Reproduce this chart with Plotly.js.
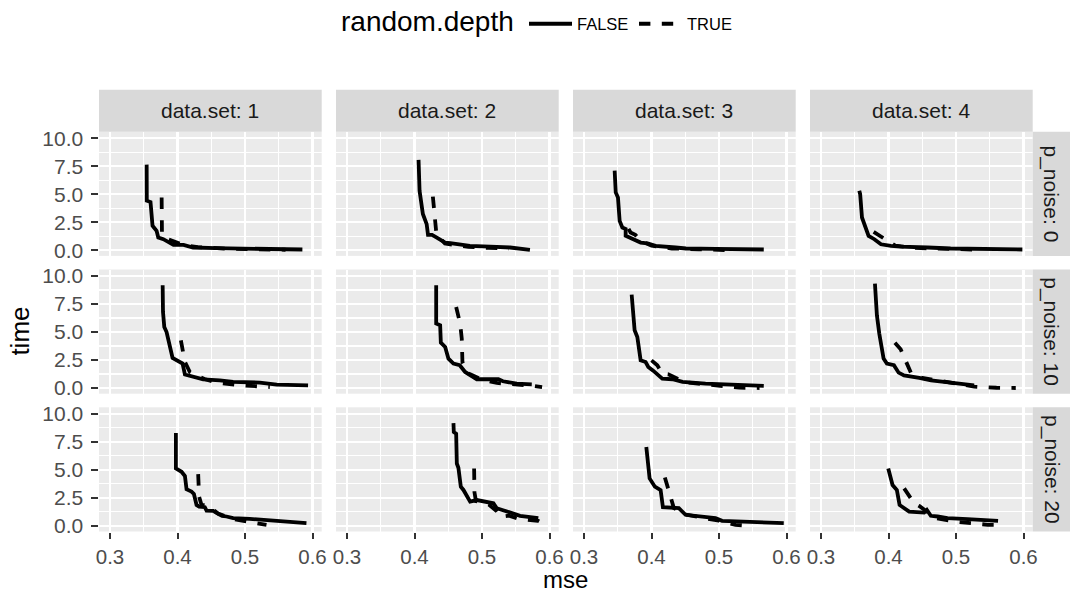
<!DOCTYPE html>
<html><head><meta charset="utf-8">
<script src="https://cdn.plot.ly/plotly-3.0.1.min.js"></script>
<style>html,body{margin:0;padding:0;background:#fff}#chart{width:1070px;height:594px}</style>
</head><body><div id="chart"></div>
<script>
// ---- facets / ticks ----
const dataSets = ['1', '2', '3', '4'];
const noiseLevels = ['0', '10', '20'];
const xTickVals = [0.3, 0.4, 0.5, 0.6];
const yTickVals = [0, 2.5, 5, 7.5, 10];
const legendTitle = 'random.depth';
const depthLevels = ['FALSE', 'TRUE'];

// ---- p_noise: 0 ----
const n0d1_false_mse = [0.3543,0.3545,0.360,0.363,0.369,0.3715,0.379,0.389,0.394,0.409,0.423,0.457,0.506,0.585];
const n0d1_false_time = [7.64,4.42,4.3,2.18,1.73,1.13,0.98,0.68,0.47,0.47,0.24,0.18,0.12,0.06];
const n0d1_true_mse = [0.3765,0.377,0.385,0.395,0.41,0.43,0.47,0.52,0.56];
const n0d1_true_time = [4.7,1.4,1.0,0.75,0.45,0.28,0.14,0.08,0.04];

const n0d2_false_mse = [0.406,0.4075,0.4124,0.418,0.420,0.426,0.433,0.4454,0.453,0.4676,0.482,0.512,0.5416,0.571];
const n0d2_false_time = [8.06,5.3,3.23,2.33,1.37,1.37,1.13,0.68,0.62,0.53,0.38,0.32,0.24,0.03];
const n0d2_true_mse = [0.4272,0.432,0.436,0.445,0.46,0.48,0.51,0.54];
const n0d2_true_time = [4.78,1.73,1.2,0.6,0.45,0.3,0.2,0.15];

const n0d3_false_mse = [0.3454,0.347,0.3503,0.3528,0.3568,0.3617,0.3617,0.374,0.384,0.394,0.406,0.4357,0.451,0.495,0.5663];
const n0d3_false_time = [7.1,5.16,4.7,2.62,2.03,1.9,1.28,0.9,0.68,0.6,0.38,0.24,0.15,0.12,0.06];
const n0d3_true_mse = [0.366,0.369,0.376,0.385,0.40,0.43,0.47,0.52];
const n0d3_true_time = [1.9,1.58,1.37,0.8,0.4,0.15,0.08,0.0];

const n0d4_false_mse = [0.3567,0.358,0.3607,0.3705,0.379,0.3888,0.4036,0.418,0.458,0.492,0.5983];
const n0d4_false_time = [5.3,5.0,2.92,1.28,0.98,0.53,0.38,0.32,0.24,0.15,0.06];
const n0d4_true_mse = [0.378,0.385,0.396,0.41,0.44,0.48,0.53];
const n0d4_true_time = [1.64,1.37,0.9,0.4,0.2,0.1,0.05];

// ---- p_noise: 10 ----
const n10d1_false_mse = [0.378,0.3785,0.3804,0.3838,0.3927,0.3986,0.4075,0.411,0.4232,0.438,0.4627,0.4824,0.522,0.547,0.5934];
const n10d1_false_time = [9.17,6.79,5.45,5.0,2.68,2.47,2.18,1.2,0.98,0.77,0.68,0.54,0.48,0.3,0.24];
const n10d1_true_mse = [0.405,0.411,0.4183,0.425,0.44,0.458,0.493,0.5367];
const n10d1_true_time = [4.26,2.32,1.43,1.25,0.8,0.48,0.24,0.09];

const n10d2_false_mse = [0.4321,0.4321,0.438,0.439,0.4454,0.4503,0.4577,0.467,0.475,0.4923,0.5243,0.531,0.5515,0.5737];
const n10d2_false_time = [9.17,5.75,5.6,4.05,3.66,2.62,2.18,2.03,1.43,0.78,0.78,0.6,0.39,0.33];
const n10d2_true_mse = [0.4617,0.4676,0.47,0.471,0.48,0.50,0.522,0.55,0.575,0.589];
const n10d2_true_time = [7.23,5.75,4.41,2.32,1.3,0.75,0.45,0.35,0.2,0.08];

const n10d3_false_mse = [0.3706,0.375,0.379,0.3839,0.3913,0.3952,0.402,0.416,0.431,0.446,0.48,0.53,0.5663];
const n10d3_false_time = [8.34,5.15,4.55,2.47,2.32,1.88,1.57,0.84,0.78,0.54,0.39,0.3,0.18];
const n10d3_true_mse = [0.40,0.4086,0.416,0.425,0.45,0.49,0.53,0.56];
const n10d3_true_time = [2.47,2.03,1.28,1.22,0.5,0.3,0.03,0.0];

const n10d4_false_mse = [0.3799,0.3828,0.3863,0.3927,0.3976,0.408,0.415,0.423,0.4455,0.463,0.492,0.5268];
const n10d4_false_time = [9.32,6.49,4.86,2.62,2.18,2.03,1.37,1.13,0.9,0.68,0.48,0.24];
const n10d4_true_mse = [0.4095,0.418,0.4331,0.45,0.48,0.51,0.527,0.56,0.5885];
const n10d4_true_time = [4.05,3.46,1.37,0.9,0.6,0.3,0.12,0.02,0.0];

// ---- p_noise: 20 ----
const n20d1_false_mse = [0.3976,0.3976,0.406,0.411,0.4134,0.4207,0.4243,0.4282,0.432,0.4405,0.443,0.4528,0.4602,0.466,0.4726,0.4824,0.507,0.5268,0.5564,0.591];
const n20d1_false_time = [8.28,5.12,4.82,4.44,3.26,3.05,2.84,1.86,1.71,1.66,1.36,1.33,1.06,0.89,0.83,0.68,0.62,0.53,0.38,0.24];
const n20d1_true_mse = [0.4306,0.432,0.4356,0.4454,0.46,0.482,0.5022,0.5318];
const n20d1_true_time = [4.61,2.6,1.86,1.8,1.1,0.62,0.38,0.09];

const n20d2_false_mse = [0.4577,0.4582,0.4617,0.4627,0.465,0.4686,0.4725,0.4824,0.4923,0.5022,0.5169,0.5219,0.529,0.5416,0.5564,0.5834];
const n20d2_false_time = [9.17,8.37,8.22,5.56,5.18,3.49,3.2,2.16,2.3,2.2,2.01,1.57,1.42,1.12,0.89,0.68];
const n20d2_true_mse = [0.4883,0.4888,0.491,0.50,0.51,0.522,0.528,0.54,0.555,0.57,0.583,0.5933];
const n20d2_true_time = [5.12,3.0,2.2,2.1,1.9,1.3,0.8,0.9,0.6,0.55,0.45,0.12];

const n20d3_false_mse = [0.3923,0.3972,0.405,0.4135,0.4169,0.43,0.4405,0.4504,0.47,0.4948,0.5046,0.539,0.5959];
const n20d3_false_time = [7.04,4.23,3.49,3.19,1.66,1.57,1.57,0.98,0.83,0.68,0.44,0.35,0.24];
const n20d3_true_mse = [0.4198,0.4297,0.433,0.45,0.48,0.50,0.5244,0.544];
const n20d3_true_time = [4.32,2.46,1.6,1.0,0.7,0.45,0.09,0.0];

const n20d4_false_mse = [0.3996,0.406,0.4124,0.4164,0.4306,0.4528,0.4568,0.4627,0.4726,0.4874,0.517,0.5623];
const n20d4_false_time = [5.12,3.64,3.19,1.86,1.27,1.18,1.42,0.89,0.83,0.68,0.59,0.44];
const n20d4_true_mse = [0.4232,0.4306,0.438,0.4455,0.47,0.4972,0.527,0.547,0.5686];
const n20d4_true_time = [3.34,2.66,2.01,1.77,0.68,0.38,0.24,0.09,0.09];

const panelSeries = {
  '0':  {'1': [n0d1_false_mse, n0d1_false_time, n0d1_true_mse, n0d1_true_time],
         '2': [n0d2_false_mse, n0d2_false_time, n0d2_true_mse, n0d2_true_time],
         '3': [n0d3_false_mse, n0d3_false_time, n0d3_true_mse, n0d3_true_time],
         '4': [n0d4_false_mse, n0d4_false_time, n0d4_true_mse, n0d4_true_time]},
  '10': {'1': [n10d1_false_mse, n10d1_false_time, n10d1_true_mse, n10d1_true_time],
         '2': [n10d2_false_mse, n10d2_false_time, n10d2_true_mse, n10d2_true_time],
         '3': [n10d3_false_mse, n10d3_false_time, n10d3_true_mse, n10d3_true_time],
         '4': [n10d4_false_mse, n10d4_false_time, n10d4_true_mse, n10d4_true_time]},
  '20': {'1': [n20d1_false_mse, n20d1_false_time, n20d1_true_mse, n20d1_true_time],
         '2': [n20d2_false_mse, n20d2_false_time, n20d2_true_mse, n20d2_true_time],
         '3': [n20d3_false_mse, n20d3_false_time, n20d3_true_mse, n20d3_true_time],
         '4': [n20d4_false_mse, n20d4_false_time, n20d4_true_mse, n20d4_true_time]}
};

// ---- geometry (pixels) ----
const W = 1070, H = 594;
const colLeft = [99, 336, 573, 810], panelW = 222.7;
const rowTop = [131.7, 269.5, 407.3], panelH = 124.2;
const stripTop = 89.7, stripRightX0 = 1032.7, stripRightX1 = 1070;
const FONT = '"Liberation Sans", Arial, Helvetica, sans-serif';
const px = p => p / W, py = p => 1 - p / H;

const traces = [];
const layout = {
  width: W, height: H,
  margin: {l: 0, r: 0, t: 0, b: 0},
  paper_bgcolor: '#FFFFFF', plot_bgcolor: '#EBEBEB',
  font: {family: FONT, color: '#000000'},
  showlegend: true,
  legend: {
    orientation: 'h', x: px(524), xanchor: 'left', y: py(24), yanchor: 'middle',
    font: {size: 16.5, color: '#000'}, bgcolor: 'rgba(0,0,0,0)',
    itemwidth: 43, entrywidth: 52, tracegroupgap: 0
  },
  shapes: [], annotations: []
};

noiseLevels.forEach((nl, r) => {
  dataSets.forEach((ds, c) => {
    const k = r * 4 + c + 1;
    const xa = 'xaxis' + (k === 1 ? '' : k), ya = 'yaxis' + (k === 1 ? '' : k);
    const xr = 'x' + (k === 1 ? '' : k), yr = 'y' + (k === 1 ? '' : k);
    const s = panelSeries[nl][ds];
    depthLevels.forEach((lv, j) => {
      traces.push({
        type: 'scatter', mode: 'lines', x: s[2 * j], y: s[2 * j + 1],
        xaxis: xr, yaxis: yr, name: lv, legendgroup: lv, showlegend: k === 1,
        line: {color: '#000000', width: 3.8, dash: j === 0 ? 'solid' : 'dash'},
        hoverinfo: 'skip'
      });
    });
    layout[xa] = {
      domain: [px(colLeft[c]), px(colLeft[c] + panelW)], anchor: yr,
      range: [0.2837, 0.6136], tickmode: 'array', tickvals: xTickVals, tickformat: '.1f',
      showgrid: true, gridcolor: '#FFFFFF', gridwidth: 2.1, zeroline: false, showline: false,
      minor: {tickvals: [0.35, 0.45, 0.55], showgrid: true, gridcolor: '#FFFFFF', gridwidth: 1.1, ticks: ''},
      ticks: r === 2 ? 'outside' : '', ticklen: 6.6, tickwidth: 2, tickcolor: '#333333',
      showticklabels: r === 2, tickfont: {size: 20.5, color: '#4D4D4D'}, ticklabelstandoff: 0,
      automargin: false, fixedrange: true
    };
    layout[ya] = {
      domain: [py(rowTop[r] + panelH), py(rowTop[r])], anchor: xr,
      range: [-0.51, 10.58], tickmode: 'array', tickvals: yTickVals, tickformat: '.1f',
      showgrid: true, gridcolor: '#FFFFFF', gridwidth: 2.1, zeroline: false, showline: false,
      minor: {tickvals: [1.25, 3.75, 6.25, 8.75], showgrid: true, gridcolor: '#FFFFFF', gridwidth: 1.1, ticks: ''},
      ticks: c === 0 ? 'outside' : '', ticklen: 6.6, tickwidth: 2, tickcolor: '#333333',
      showticklabels: c === 0, tickfont: {size: 21, color: '#4D4D4D'}, ticklabelstandoff: 4,
      automargin: false, fixedrange: true
    };
  });
});

// legend title
layout.annotations.push({xref: 'paper', yref: 'paper', x: px(516), y: py(22), text: legendTitle,
  showarrow: false, xanchor: 'right', yanchor: 'middle', font: {size: 28, color: '#000'}});
// top strips
dataSets.forEach((ds, c) => {
  layout.shapes.push({type: 'rect', xref: 'paper', yref: 'paper',
    x0: px(colLeft[c]), x1: px(colLeft[c] + panelW), y0: py(rowTop[0]), y1: py(stripTop),
    fillcolor: '#D9D9D9', line: {width: 0}});
  layout.annotations.push({xref: 'paper', yref: 'paper', x: px(colLeft[c] + panelW / 2),
    y: py((stripTop + rowTop[0]) / 2), text: 'data.set: ' + ds, showarrow: false,
    xanchor: 'center', yanchor: 'middle', font: {size: 21, color: '#1A1A1A'}});
});
// right strips
noiseLevels.forEach((nl, r) => {
  layout.shapes.push({type: 'rect', xref: 'paper', yref: 'paper',
    x0: px(stripRightX0), x1: px(stripRightX1), y0: py(rowTop[r] + panelH), y1: py(rowTop[r]),
    fillcolor: '#D9D9D9', line: {width: 0}});
  layout.annotations.push({xref: 'paper', yref: 'paper', x: px((stripRightX0 + stripRightX1) / 2),
    y: py(rowTop[r] + panelH / 2), text: 'p_noise: ' + nl, textangle: 90, showarrow: false,
    xanchor: 'center', yanchor: 'middle', font: {size: 21, color: '#1A1A1A'}});
});
// axis titles
layout.annotations.push({xref: 'paper', yref: 'paper', x: px((colLeft[0] + colLeft[3] + panelW) / 2),
  y: py(594), text: 'mse', showarrow: false, xanchor: 'center', yanchor: 'bottom', borderpad: 0,
  font: {size: 24, color: '#000'}});
layout.annotations.push({xref: 'paper', yref: 'paper', x: px(20),
  y: py((rowTop[0] + rowTop[2] + panelH) / 2), text: 'time', textangle: -90, showarrow: false,
  xanchor: 'center', yanchor: 'middle', font: {size: 26, color: '#000'}});

Plotly.newPlot('chart', traces, layout, {staticPlot: true, displayModeBar: false});
</script>
</body></html>
